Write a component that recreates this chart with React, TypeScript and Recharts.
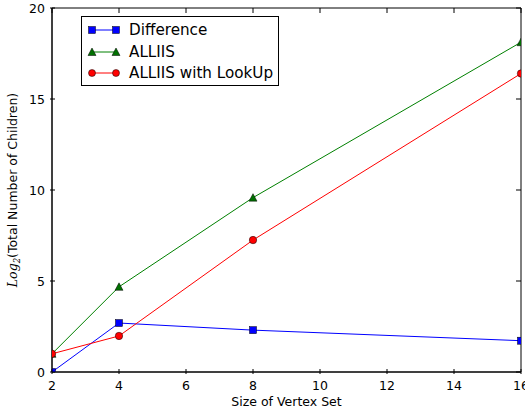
import React from "react";
import { LineChart, Line, XAxis, YAxis, ReferenceArea, Legend, Label } from "recharts";

const xValues = [2, 4, 8, 16];
const differenceValues = [0, 2.69, 2.3, 1.72];
const alliisValues = [1.0, 4.68, 9.58, 18.12];
const lookupValues = [1.0, 1.98, 7.25, 16.4];
const xTicks = [2, 4, 6, 8, 10, 12, 14, 16];
const yTicks = [0, 5, 10, 15, 20];

const seriesNames = ["Difference", "ALLIIS", "ALLIIS with LookUp"];
const seriesColors = ["#0000ff", "#008000", "#ff0000"];

const data = xValues.map((x, i) => ({
  x,
  diff: differenceValues[i],
  alliis: alliisValues[i],
  lookup: lookupValues[i],
}));

const FONT = "DejaVu Sans";
const TOP = 8;
const RIGHT = 521;

const Square = (p: any) => (
  <rect key={p.key ?? p.index} x={p.cx - 3.5} y={p.cy - 3.5} width={7} height={7} fill="#0000ff" stroke="#000" strokeWidth={0.5} />
);
const Tri = (p: any) => (
  <polygon
    key={p.key ?? p.index}
    points={`${p.cx},${p.cy - 4} ${p.cx - 4},${p.cy + 3.5} ${p.cx + 4},${p.cy + 3.5}`}
    fill="#007000"
    stroke="#000"
    strokeWidth={0.5}
  />
);
const Circ = (p: any) => (
  <circle key={p.key ?? p.index} cx={p.cx} cy={p.cy} r={3.7} fill="#ff0000" stroke="#000" strokeWidth={0.5} />
);

const XTick = (p: any) => (
  <g>
    <line x1={p.x} y1={p.y} x2={p.x} y2={p.y - 5} stroke="#000" />
    <line x1={p.x} y1={TOP} x2={p.x} y2={TOP + 5} stroke="#000" />
    <text x={p.x} y={p.y + 16} textAnchor="middle" fontFamily={FONT} fontSize={12.5} fill="#000">
      {p.payload.value}
    </text>
  </g>
);
const YTick = (p: any) => (
  <g>
    <line x1={p.x} y1={p.y} x2={p.x + 5} y2={p.y} stroke="#000" />
    <line x1={RIGHT} y1={p.y} x2={RIGHT - 5} y2={p.y} stroke="#000" />
    <text x={p.x - 5} y={p.y} dy="0.36em" textAnchor="end" fontFamily={FONT} fontSize={12.5} fill="#000">
      {p.payload.value}
    </text>
  </g>
);

const markers = [
  (x: number, y: number) => <rect x={x - 3.5} y={y - 3.5} width={7} height={7} fill="#0000ff" stroke="#000" strokeWidth={0.5} />,
  (x: number, y: number) => (
    <polygon points={`${x},${y - 4} ${x - 4},${y + 3.5} ${x + 4},${y + 3.5}`} fill="#007000" stroke="#000" strokeWidth={0.5} />
  ),
  (x: number, y: number) => <circle cx={x} cy={y} r={3.5} fill="#ff0000" stroke="#000" strokeWidth={0.5} />,
];

const LegendBox = () => (
  <div
    style={{
      position: "absolute",
      left: 81,
      top: 16,
      width: 196,
      height: 68,
      border: "1px solid #000",
      background: "#fff",
      fontFamily: FONT,
      fontSize: 15.2,
    }}
  >
    {seriesNames.map((n, i) => (
      <div key={n} style={{ position: "absolute", left: 8, top: 3 + i * 21.5, height: 20, display: "flex", alignItems: "center" }}>
        <svg width={28} height={12} style={{ overflow: "visible" }}>
          <line x1={2} y1={6} x2={26} y2={6} stroke={seriesColors[i]} strokeWidth={1} />
          {markers[i](2, 6)}
          {markers[i](26, 6)}
        </svg>
        <span style={{ marginLeft: 11, whiteSpace: "nowrap" }}>{n}</span>
      </div>
    ))}
  </div>
);

const YLabel = (props: any) => {
  const vb = props.viewBox || { x: 0, y: 8, width: 52, height: 364 };
  const cx = 17;
  const cy = vb.y + vb.height / 2;
  return (
    <text transform={`translate(${cx},${cy}) rotate(-90)`} textAnchor="middle" fontSize={12.5} fill="#000" fontFamily={FONT}>
      <tspan fontFamily="DejaVu Serif" fontStyle="italic">Log</tspan>
      <tspan fontFamily="DejaVu Serif" fontStyle="italic" fontSize={8.5} dy={3}>2</tspan>
      <tspan dy={-3}>(Total Number of Children)</tspan>
    </text>
  );
};

export default function App() {
  return (
    <div style={{ position: "absolute", left: 0, top: 0, width: 525, height: 412, background: "#fff" }}>
      <LineChart width={525} height={412} data={data} margin={{ top: 8, right: 4, bottom: 0, left: 0 }}>
        <XAxis
          dataKey="x"
          type="number"
          domain={[2, 16]}
          ticks={xTicks}
          allowDataOverflow
          height={40}
          tickSize={0}
          tickLine={false}
          tick={<XTick />}
          axisLine={{ stroke: "#000" }}
          interval={0}
        >
          <Label value="Size of Vertex Set" position="insideBottom" offset={6} fontFamily={FONT} fontSize={12.5} fill="#000" />
        </XAxis>
        <YAxis
          type="number"
          domain={[0, 20]}
          ticks={yTicks}
          allowDataOverflow
          width={52}
          tickSize={0}
          tickLine={false}
          tick={<YTick />}
          axisLine={{ stroke: "#000" }}
          interval={0}
          label={<YLabel />}
        />
        <ReferenceArea x1={2} x2={16} y1={0} y2={20} fill="none" stroke="#000" strokeWidth={1} />
        <Line dataKey="diff" stroke="#0000ff" strokeWidth={1} dot={Square} isAnimationActive={false} />
        <Line dataKey="alliis" stroke="#008000" strokeWidth={1} dot={Tri} isAnimationActive={false} />
        <Line dataKey="lookup" stroke="#ff0000" strokeWidth={1} dot={Circ} isAnimationActive={false} />
        <Legend content={() => <LegendBox />} wrapperStyle={{ position: "absolute", left: 0, top: 0, width: 0, height: 0 }} />
      </LineChart>
    </div>
  );
}
